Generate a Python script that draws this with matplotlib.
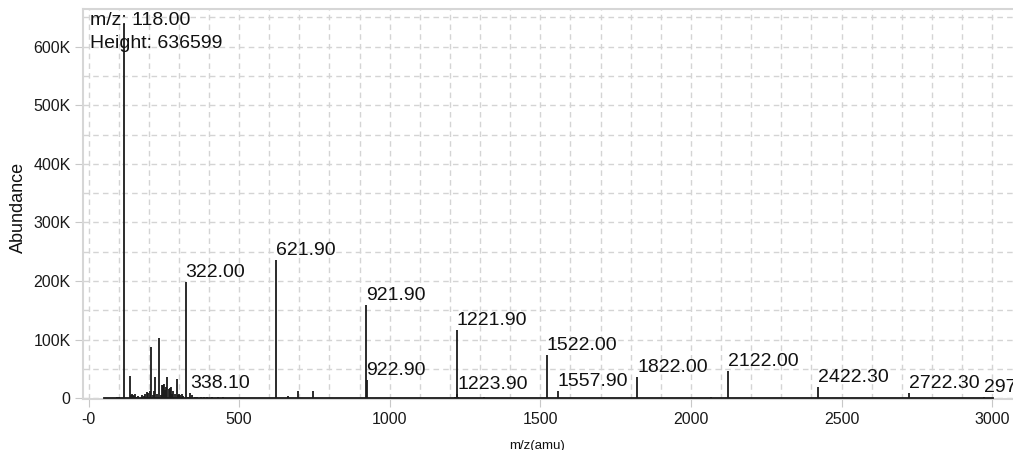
import matplotlib.pyplot as plt
from matplotlib.ticker import MultipleLocator

plt.rcParams['font.family'] = ['Liberation Sans', 'DejaVu Sans']

# main labelled peaks (m/z, abundance)
peak_mz = [118.00, 322.00, 338.10, 621.90, 921.90, 922.90, 1221.90, 1223.90,
           1522.00, 1557.90, 1822.00, 2122.00, 2422.30, 2722.30, 2972.30]
peak_height = [636599, 199000, 9000, 236000, 159000, 31000, 116500, 8000,
               74000, 13000, 37000, 46000, 20000, 8500, 2500]
peak_labels = ['322.00', '338.10', '621.90', '921.90', '922.90', '1221.90', '1223.90',
               '1522.00', '1557.90', '1822.00', '2122.00', '2422.30', '2722.30', '2972.30']

# unlabelled minor peaks
minor_mz = [95, 100, 137, 140, 143, 147, 151, 155, 160, 165, 178, 184, 188, 193, 198,
            203, 209, 214, 218, 222, 226, 234, 240, 244, 248, 251, 254, 257, 262, 266,
            270, 274, 278, 282, 286, 293, 297, 301, 305, 309, 314, 330, 345, 352, 360,
            372, 385, 393, 410, 430, 445, 661, 694, 744, 1218, 1226, 1313, 2067]
minor_height = [1500, 2500, 38600, 6000, 8000, 5000, 4000, 7000, 3000, 4000, 5000, 3500, 8000,
                10000, 9000, 12000, 87000, 6000, 12000, 37000, 8000, 103000, 6000, 23000, 22000,
                24000, 14000, 20000, 37000, 16000, 18000, 20000, 8000, 12000, 7000, 33000, 6000,
                8000, 5000, 7000, 4000, 3000, 5000, 3000, 2500, 2000, 2500, 3000, 2000, 3000,
                3000, 4000, 13000, 13000, 3000, 3000, 3000, 3000]

mz_start = 50
mz_end = 3003

info_text = 'm/z: 118.00\nHeight: 636599'
x_ticks = [0, 500, 1000, 1500, 2000, 2500, 3000]
x_ticklabels = ['-0', '500', '1000', '1500', '2000', '2500', '3000']
y_ticks = [0, 100000, 200000, 300000, 400000, 500000, 600000]
y_ticklabels = ['0', '100K', '200K', '300K', '400K', '500K', '600K']

fig = plt.figure(figsize=(10.13, 4.5), dpi=100)
ax = fig.add_axes([83 / 1013, 1 - 399 / 450, 1 - 83 / 1013, (399 - 8.5) / 450])

line_color = '#1a1a1a'
ax.plot([mz_start, mz_end], [0, 0], color=line_color, lw=1.3, zorder=3)
ax.vlines(minor_mz, 0, minor_height, color=line_color, lw=1.3, zorder=3)
ax.vlines(peak_mz, 0, peak_height, color=line_color, lw=1.3, zorder=3)

for mz, h, lab in zip(peak_mz[1:], peak_height[1:], peak_labels):
    ax.annotate(lab, (mz, h), xytext=(0, 5), textcoords='offset pixels',
                ha='left', va='baseline', fontsize=14, color='#111111', zorder=4)

ax.text(0.008, 0.99, info_text, transform=ax.transAxes, ha='left', va='top',
        fontsize=14, color='#111111', linespacing=1.45, zorder=4)

ax.set_xlim(-18.3, 3069)
ax.set_ylim(-1200, 665000)
ax.set_xticks(x_ticks)
ax.set_xticklabels(x_ticklabels)
ax.set_yticks(y_ticks)
ax.set_yticklabels(y_ticklabels)
ax.xaxis.set_minor_locator(MultipleLocator(100))
ax.yaxis.set_minor_locator(MultipleLocator(50000))
ax.tick_params(which='major', length=6, color='#c8c8c8', labelsize=11.5, labelcolor='#1a1a1a', pad=3)
ax.tick_params(which='minor', length=0)

ax.grid(True, which='both', color='#d4d4d4', linestyle=(0, (4, 3)), lw=1)
ax.set_axisbelow(True)
for side in ['left', 'bottom', 'top']:
    ax.spines[side].set_color('#d6d6d6')
    ax.spines[side].set_linewidth(1.5)
ax.spines['right'].set_visible(False)

ax.set_ylabel('Abundance', fontsize=13, color='#111111')
ax.yaxis.set_label_coords(-0.06, 0.49)
ax.set_xlabel('m/z(amu)', fontsize=9.5, color='#111111')
ax.xaxis.set_label_coords(0.488, -0.105)

fig.savefig('out.png', dpi=100)
